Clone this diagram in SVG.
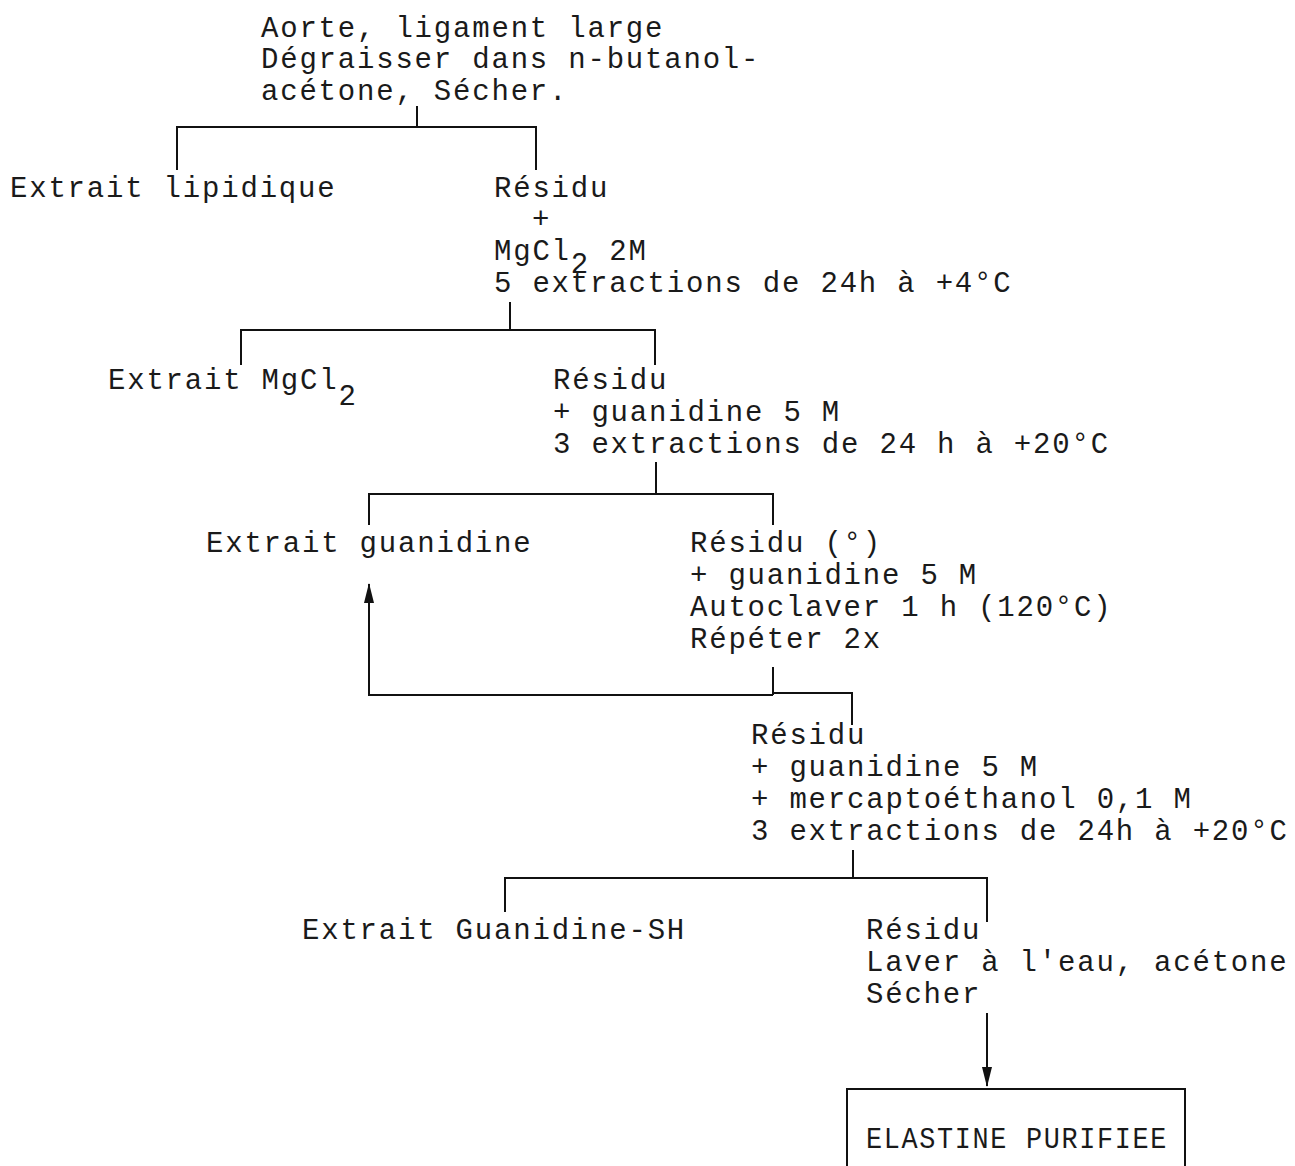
<svg xmlns="http://www.w3.org/2000/svg" width="1295" height="1166" viewBox="0 0 1295 1166">
<style>
text{font-family:"Liberation Mono","Courier New",monospace;font-size:29px;letter-spacing:1.8px;fill:#1a1a1a}
.c{stroke:#111;stroke-width:2;fill:none}
</style>
<defs>
<marker id="ah" viewBox="0 0 20 12" refX="19" refY="6" markerWidth="20" markerHeight="12" markerUnits="userSpaceOnUse" orient="auto">
<path d="M0,1 L20,6 L0,11 Z" fill="#111"/>
</marker>
</defs>
<rect width="1295" height="1166" fill="#fff"/>
<g id="connectors">
<path class="c" d="M417,106 V127 M177,170 V127 H536 V170"/>
<path class="c" d="M510,302 V330 M241,365 V330 H655 V365"/>
<path class="c" d="M656,462 V494 M369,525 V494 H773 V525"/>
<path class="c" d="M773,667 V695 M773,693 H852 V725"/>
<path class="c" d="M773,695 H369 V584" marker-end="url(#ah)"/>
<path class="c" d="M853,850 V878 M505,912 V878 H987 V922"/>
<path class="c" d="M987,1013 V1086" marker-end="url(#ah)"/>
</g>
<g id="n-start">
<text x="261" y="37">Aorte, ligament large</text>
<text x="261" y="68">Dégraisser dans n-butanol-</text>
<text x="261" y="100">acétone, Sécher.</text>
</g>
<g id="n-lipid"><text x="10" y="197">Extrait lipidique</text></g>
<g id="n-res1">
<text x="494" y="197">Résidu</text>
<text x="532" y="228">+</text>
<text x="494" y="260">MgCl<tspan dy="13">2</tspan><tspan dy="-13"> 2M</tspan></text>
<text x="494" y="292">5 extractions de 24h à +4°C</text>
</g>
<g id="n-mgcl"><text x="108" y="389">Extrait MgCl<tspan dy="16">2</tspan></text></g>
<g id="n-res2">
<text x="553" y="389">Résidu</text>
<text x="553" y="421">+ guanidine 5 M</text>
<text x="553" y="453">3 extractions de 24 h à +20°C</text>
</g>
<g id="n-guan"><text x="206" y="552">Extrait guanidine</text></g>
<g id="n-res3">
<text x="690" y="552">Résidu (°)</text>
<text x="690" y="584">+ guanidine 5 M</text>
<text x="690" y="616">Autoclaver 1 h (120°C)</text>
<text x="690" y="648">Répéter 2x</text>
</g>
<g id="n-res4">
<text x="751" y="744">Résidu</text>
<text x="751" y="776">+ guanidine 5 M</text>
<text x="751" y="808">+ mercaptoéthanol 0,1 M</text>
<text x="751" y="840">3 extractions de 24h à +20°C</text>
</g>
<g id="n-guansh"><text x="302" y="939">Extrait Guanidine-SH</text></g>
<g id="n-res5">
<text x="866" y="939">Résidu</text>
<text x="866" y="971">Laver à l'eau, acétone</text>
<text x="866" y="1003">Sécher</text>
</g>
<g id="n-elastine">
<path class="c" d="M847,1170 V1089 H1185 V1170"/>
<text x="866" y="1148" textLength="302" lengthAdjust="spacingAndGlyphs">ELASTINE PURIFIEE</text>
</g>
</svg>
